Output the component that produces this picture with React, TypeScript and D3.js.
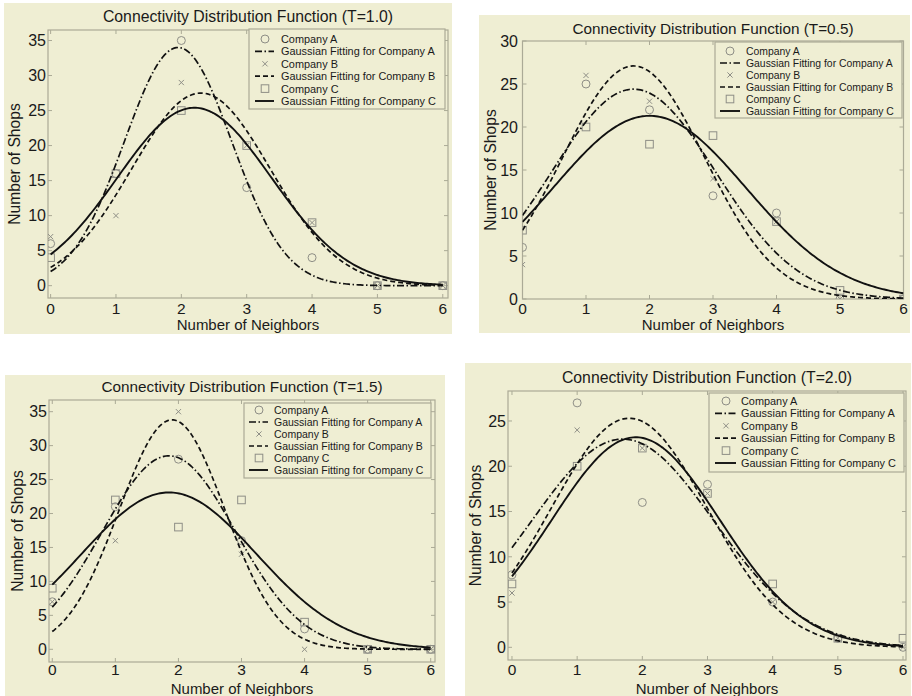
import React from "react";
import * as d3 from "d3";

// ---------- DATA ----------
const neighbors = [0, 1, 2, 3, 4, 5, 6];

// T = 1.0
const t10CompanyA = [6, 16, 35, 14, 4, 0, 0];
const t10CompanyB = [7, 10, 29, 20, 9, 0, 0];
const t10CompanyC = [4, 16, 25, 20, 9, 0, 0];
// Gaussian fit parameters: [peak, centre, width]
const t10FitA = [34, 1.95, 0.82];
const t10FitB = [27.5, 2.3, 1.06];
const t10FitC = [25.4, 2.2, 1.18];

// T = 0.5
const t05CompanyA = [6, 25, 22, 12, 10, 0, 0];
const t05CompanyB = [4, 26, 23, 14, 9, 0, 0];
const t05CompanyC = [8, 20, 18, 19, 9, 1, 0];
const t05FitA = [24.4, 1.75, 1.29];
const t05FitB = [27.1, 1.75, 1.12];
const t05FitC = [21.3, 2.0, 1.52];

// T = 1.5
const t15CompanyA = [7, 21, 28, 16, 3, 0, 0];
const t15CompanyB = [7, 16, 35, 14, 0, 0, 0];
const t15CompanyC = [9, 22, 18, 22, 4, 0, 0];
const t15FitA = [28.5, 1.85, 1.06];
const t15FitB = [33.8, 1.9, 0.84];
const t15FitC = [23.1, 1.85, 1.39];

// T = 2.0
const t20CompanyA = [8, 27, 16, 18, 5, 1, 0];
const t20CompanyB = [6, 24, 22, 17, 5, 1, 0];
const t20CompanyC = [7, 20, 22, 17, 7, 1, 1];
const t20FitA = [23, 1.7, 1.4];
const t20FitB = [25.3, 1.8, 1.2];
const t20FitC = [23.2, 1.9, 1.29];

const legendLabels = [
  "Company A",
  "Gaussian Fitting for Company A",
  "Company B",
  "Gaussian Fitting for Company B",
  "Company C",
  "Gaussian Fitting for Company C",
];

// ---------- STYLE ----------
const BG = "#EFEED3";
const AXIS = "#ABAA96";
const MARK = "#8E8E86";
const INK = "#1a1a1a";
const FONT = "'Liberation Sans', Arial, Helvetica, sans-serif";
const DASH_A = "7,2.5,1.5,2.5";
const DASH_B = "5,3";

type Panel = {
  title: string;
  bg: [number, number, number, number];
  plot: { left: number; right: number; top: number; bottom: number };
  xDomain: [number, number];
  yDomain: [number, number];
  yMax: number;
  A: number[];
  B: number[];
  C: number[];
  fitA: number[];
  fitB: number[];
  fitC: number[];
  legend: {
    x0: number; y0: number; x1: number; y1: number;
    row0: number; step: number; markerX: number; lineX1: number; lineX2: number; textX: number; fs: number;
  };
  titleY: number;
  titleFs: number;
  xTickY: number;
  xTitleY: number;
  yTitleX: number;
  yLabelGap: number;
};

const panels: Panel[] = [
  {
    title: "Connectivity Distribution Function (T=1.0)",
    bg: [4, 3, 452, 334],
    plot: { left: 48, right: 448, top: 30, bottom: 298 },
    xDomain: [-0.04, 6.08],
    yDomain: [-1.76, 36.5],
    yMax: 35,
    A: t10CompanyA, B: t10CompanyB, C: t10CompanyC,
    fitA: t10FitA, fitB: t10FitB, fitC: t10FitC,
    legend: { x0: 249, y0: 29, x1: 445, y1: 109, row0: 39, step: 12.4, markerX: 265, lineX1: 255, lineX2: 274, textX: 281, fs: 10.9 },
    titleY: 22, titleFs: 15.8, xTickY: 314, xTitleY: 330, yTitleX: 20, yLabelGap: 2,
  },
  {
    title: "Connectivity Distribution Function (T=0.5)",
    bg: [479, 15, 910, 333],
    plot: { left: 522.5, right: 903.5, top: 41, bottom: 299 },
    xDomain: [0, 6],
    yDomain: [0, 30],
    yMax: 30,
    A: t05CompanyA, B: t05CompanyB, C: t05CompanyC,
    fitA: t05FitA, fitB: t05FitB, fitC: t05FitC,
    legend: { x0: 715, y0: 42, x1: 902, y1: 118, row0: 51, step: 12, markerX: 730, lineX1: 720, lineX2: 740, textX: 746, fs: 10.4 },
    titleY: 34, titleFs: 15.3, xTickY: 314, xTitleY: 330, yTitleX: 496, yLabelGap: 4.5,
  },
  {
    title: "Connectivity Distribution Function (T=1.5)",
    bg: [5, 375, 445, 696],
    plot: { left: 49, right: 435, top: 400, bottom: 662 },
    xDomain: [-0.052, 6.068],
    yDomain: [-1.87, 36.72],
    yMax: 35,
    A: t15CompanyA, B: t15CompanyB, C: t15CompanyC,
    fitA: t15FitA, fitB: t15FitB, fitC: t15FitC,
    legend: { x0: 244, y0: 403, x1: 431, y1: 478, row0: 410, step: 12, markerX: 259, lineX1: 249, lineX2: 268, textX: 274, fs: 10.5 },
    titleY: 392, titleFs: 15.3, xTickY: 675, xTitleY: 693.5, yTitleX: 23, yLabelGap: 2,
  },
  {
    title: "Connectivity Distribution Function (T=2.0)",
    bg: [465, 363, 911, 696],
    plot: { left: 508, right: 906, top: 391, bottom: 660 },
    xDomain: [-0.061, 6.046],
    yDomain: [-1.4, 28.31],
    yMax: 25,
    A: t20CompanyA, B: t20CompanyB, C: t20CompanyC,
    fitA: t20FitA, fitB: t20FitB, fitC: t20FitC,
    legend: { x0: 709, y0: 393, x1: 904, y1: 472, row0: 401, step: 12.4, markerX: 726, lineX1: 715, lineX2: 736, textX: 741, fs: 10.9 },
    titleY: 383, titleFs: 15.8, xTickY: 675, xTitleY: 693.5, yTitleX: 481, yLabelGap: 2,
  },
];

const gauss = (p: number[], x: number) => p[0] * Math.exp(-((x - p[1]) ** 2) / (2 * p[2] * p[2]));

function Circle({ x, y }: { x: number; y: number }) {
  return <circle cx={x} cy={y} r={4} fill="none" stroke={MARK} strokeWidth={1} />;
}
function Cross({ x, y }: { x: number; y: number }) {
  const s = 2.6;
  return (
    <path d={`M${x - s},${y - s}L${x + s},${y + s}M${x - s},${y + s}L${x + s},${y - s}`} stroke={MARK} strokeWidth={1} />
  );
}
function Square({ x, y }: { x: number; y: number }) {
  const s = 3.8;
  return <rect x={x - s} y={y - s} width={2 * s} height={2 * s} fill="none" stroke={MARK} strokeWidth={1} />;
}

function ChartPanel({ p, idx }: { p: Panel; idx: number }) {
  const { left, right, top, bottom } = p.plot;
  const x = d3.scaleLinear().domain(p.xDomain).range([left, right]);
  const y = d3.scaleLinear().domain(p.yDomain).range([bottom, top]);
  const xs = d3.range(0, 6.0001, 0.03);
  const line = (params: number[]) =>
    d3
      .line<number>()
      .x((d) => x(d))
      .y((d) => y(gauss(params, d)))
      .curve(d3.curveLinear)(xs) || "";
  const yTicks = d3.range(0, p.yMax + 0.1, 5);
  const xTicks = neighbors;
  const clipId = `clip${idx}`;
  const L = p.legend;
  const rowY = (i: number) => L.row0 + i * L.step;
  const cx = (left + right) / 2;
  const tk = 4;
  return (
    <g fontFamily={FONT}>
      <rect x={p.bg[0]} y={p.bg[1]} width={p.bg[2] - p.bg[0]} height={p.bg[3] - p.bg[1]} fill={BG} />
      <defs>
        <clipPath id={clipId}>
          <rect x={left} y={top} width={right - left} height={bottom - top} />
        </clipPath>
      </defs>
      {/* ticks */}
      {yTicks.map((t) => (
        <g key={`y${t}`}>
          <line x1={left} x2={left + tk} y1={y(t)} y2={y(t)} stroke={AXIS} />
          <line x1={right} x2={right - tk} y1={y(t)} y2={y(t)} stroke={AXIS} />
          <text x={left - p.yLabelGap} y={y(t)} dy="0.36em" textAnchor="end" fontSize={16} fill={INK}>
            {t}
          </text>
        </g>
      ))}
      {xTicks.map((t) => (
        <g key={`x${t}`}>
          <line x1={x(t)} x2={x(t)} y1={bottom} y2={bottom - tk} stroke={AXIS} />
          <line x1={x(t)} x2={x(t)} y1={top} y2={top + tk} stroke={AXIS} />
          <text x={x(t)} y={p.xTickY} textAnchor="middle" fontSize={15.5} fill={INK}>
            {t}
          </text>
        </g>
      ))}
      <rect x={left} y={top} width={right - left} height={bottom - top} fill="none" stroke={AXIS} strokeWidth={1.2} />
      {/* markers */}
      <g clipPath={`url(#${clipId})`}>
        {neighbors.map((n, i) => (
          <Circle key={`a${i}`} x={x(n)} y={y(p.A[i])} />
        ))}
        {neighbors.map((n, i) => (
          <Cross key={`b${i}`} x={x(n)} y={y(p.B[i])} />
        ))}
        {neighbors.map((n, i) => (
          <Square key={`c${i}`} x={x(n)} y={y(p.C[i])} />
        ))}
        <path d={line(p.fitA)} fill="none" stroke="#111" strokeWidth={1.7} strokeDasharray={DASH_A} />
        <path d={line(p.fitB)} fill="none" stroke="#111" strokeWidth={1.7} strokeDasharray={DASH_B} />
        <path d={line(p.fitC)} fill="none" stroke="#111" strokeWidth={1.9} />
      </g>
      {/* legend */}
      <rect x={L.x0} y={L.y0} width={L.x1 - L.x0} height={L.y1 - L.y0} fill={BG} stroke={AXIS} strokeWidth={1.2} />
      <Circle x={L.markerX} y={rowY(0)} />
      <line x1={L.lineX1} x2={L.lineX2} y1={rowY(1)} y2={rowY(1)} stroke="#111" strokeWidth={1.7} strokeDasharray={DASH_A} />
      <Cross x={L.markerX} y={rowY(2)} />
      <line x1={L.lineX1} x2={L.lineX2} y1={rowY(3)} y2={rowY(3)} stroke="#111" strokeWidth={1.7} strokeDasharray={DASH_B} />
      <Square x={L.markerX} y={rowY(4)} />
      <line x1={L.lineX1} x2={L.lineX2} y1={rowY(5)} y2={rowY(5)} stroke="#111" strokeWidth={1.9} />
      {legendLabels.map((lab, i) => (
        <text key={lab} x={L.textX} y={rowY(i)} dy="0.36em" fontSize={L.fs} fill={INK}>
          {lab}
        </text>
      ))}
      {/* titles */}
      <text x={cx} y={p.titleY} textAnchor="middle" fontSize={p.titleFs} fill={INK}>
        {p.title}
      </text>
      <text x={cx} y={p.xTitleY} textAnchor="middle" fontSize={15} fill={INK}>
        Number of Neighbors
      </text>
      <text
        transform={`translate(${p.yTitleX},${(top + bottom) / 2}) rotate(-90)`}
        textAnchor="middle"
        fontSize={15.6}
        fill={INK}
      >
        Number of Shops
      </text>
    </g>
  );
}

export default function App() {
  return (
    <svg
      width={912}
      height={696}
      style={{ position: "absolute", left: 0, top: 0, background: "#fff" }}
    >
      {panels.map((p, i) => (
        <ChartPanel key={p.title} p={p} idx={i} />
      ))}
    </svg>
  );
}
